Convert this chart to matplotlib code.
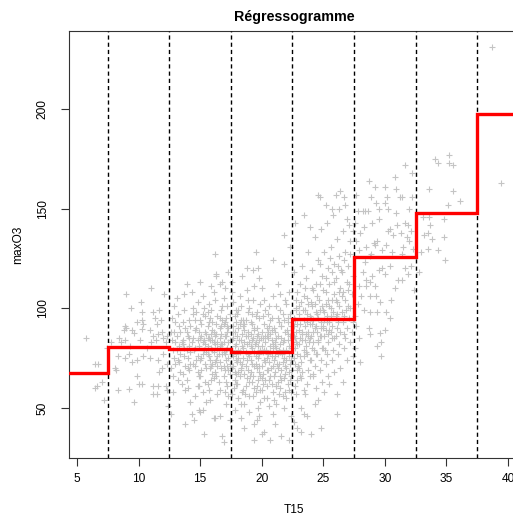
import matplotlib
matplotlib.use("Agg")
import matplotlib.pyplot as plt
import numpy as np

plt.rcParams['font.family'] = ['Liberation Sans', 'DejaVu Sans']

# ozone data: temperature at 15h (T15) vs daily max ozone (maxO3),
# one list per 5-degree class of T15
cls_05 = [(5.7, 85), (6.5, 72), (6.7, 72), (7.0, 63), (6.6, 61), (6.5, 60), (7.2, 54), (7.4, 80)]

cls_10 = [(7.8, 83), (8.4, 85), (8.6, 83), (8.9, 84), (9.0, 107), (9.4, 100), (8.9, 91), (9.0, 90),
          (8.8, 89), (9.5, 89), (9.6, 87.5), (9.9, 93), (10.3, 94), (10.4, 92), (10.3, 98), (10.2, 103),
          (11.0, 110), (12.1, 107), (11.2, 98), (11.7, 99), (10.3, 89.5), (10.9, 89), (11.5, 92), (11.8, 94),
          (11.9, 88), (11.2, 86), (11.6, 87), (12.0, 85), (12.3, 86), (10.1, 84), (11.0, 83), (11.4, 84),
          (12.2, 83), (8.3, 76), (8.9, 75), (9.2, 77), (9.5, 73), (9.9, 74), (10.4, 76), (10.9, 75),
          (11.6, 74), (12.0, 77), (12.3, 72), (8.2, 69), (8.1, 70), (9.9, 66), (11.7, 68), (11.9, 70),
          (10.0, 62), (10.3, 62), (8.3, 59), (9.2, 59.5), (11.2, 61), (11.6, 61), (12.2, 61), (11.2, 57),
          (11.5, 57), (12.3, 59), (9.6, 53), (12.4, 51), (9.3, 81), (10.7, 80), (11.3, 95)]

cls_15 = [(12.6, 88), (12.7, 95), (12.8, 79), (12.9, 101), (13.0, 72), (13.1, 86), (13.2, 64), (13.3, 91),
          (13.4, 77), (12.6, 70), (12.8, 58), (13.0, 83), (13.2, 97), (13.4, 68), (12.7, 84), (12.9, 75),
          (13.1, 105), (13.3, 81), (13.5, 62), (12.6, 47), (13.0, 93), (13.2, 74), (13.4, 88), (12.8, 66),
          (13.1, 79), (13.6, 82), (13.7, 99), (13.8, 71), (13.9, 88), (14.0, 60), (14.1, 94), (14.2, 78),
          (14.3, 108), (14.4, 85), (13.6, 67), (13.8, 90), (14.0, 75), (14.2, 53), (14.4, 97), (13.7, 80),
          (13.9, 112), (14.1, 69), (14.3, 83), (13.6, 93), (13.8, 59), (14.0, 86), (14.2, 91), (14.4, 72),
          (13.7, 76), (13.9, 64), (14.1, 81), (14.3, 47), (14.4, 100), (13.6, 84), (14.0, 70), (14.6, 89),
          (14.7, 74), (14.8, 103), (14.9, 66), (15.0, 85), (15.1, 92), (15.2, 58), (15.3, 79), (15.4, 96),
          (14.6, 71), (14.8, 84), (15.0, 113), (15.2, 77), (15.4, 63), (14.7, 90), (14.9, 81), (15.1, 69),
          (15.3, 100), (15.5, 87), (14.6, 56), (14.8, 76), (15.0, 94), (15.2, 83), (15.4, 72), (14.7, 98),
          (14.9, 61), (15.1, 86), (15.3, 37), (15.5, 78), (14.6, 80), (14.8, 68), (15.0, 48), (15.2, 106),
          (15.4, 82), (15.0, 74), (15.6, 91), (15.7, 76), (15.8, 84), (15.9, 99), (16.0, 67), (16.1, 88),
          (16.2, 73), (16.3, 117), (16.4, 80), (15.6, 62), (15.8, 95), (16.0, 79), (16.2, 86), (16.4, 57),
          (15.7, 102), (15.9, 71), (16.1, 83), (16.3, 92), (15.6, 77), (15.8, 54), (16.0, 89), (16.2, 68),
          (16.4, 96), (15.7, 85), (15.9, 64), (16.1, 108), (16.3, 74), (15.6, 81), (15.8, 70), (16.0, 93),
          (16.2, 45), (16.4, 83), (15.7, 59), (15.9, 87), (16.1, 78), (16.3, 66), (15.6, 98), (16.0, 72),
          (16.2, 104), (16.4, 76), (16.6, 85), (16.7, 70), (16.8, 94), (16.9, 78), (17.0, 110), (17.1, 63),
          (17.2, 88), (17.3, 75), (17.4, 97), (16.6, 59), (16.8, 82), (17.0, 69), (17.2, 101), (17.4, 84),
          (16.7, 91), (16.9, 66), (17.1, 79), (17.3, 118), (16.6, 73), (16.8, 36), (17.0, 86), (17.2, 61),
          (17.4, 72), (16.7, 99), (16.9, 83), (17.1, 52), (17.3, 90), (16.6, 95), (16.8, 77), (17.0, 58),
          (17.2, 80), (17.4, 67), (16.7, 87), (16.9, 105), (17.1, 74), (17.3, 56), (16.6, 81), (17.0, 93),
          (17.2, 71), (17.4, 44), (16.2, 127), (16.3, 116), (16.6, 112), (16.8, 113), (15.9, 111), (13.7, 107),
          (16.9, 33), (13.8, 42), (14.5, 44), (16.1, 45), (16.6, 46), (14.9, 49), (15.2, 49),
          (14.5, 79), (14.9, 88), (15.1, 75), (15.3, 84), (15.5, 70), (15.7, 93), (15.9, 80), (16.1, 65),
          (16.3, 87), (16.5, 77), (16.7, 82), (16.9, 92), (17.1, 86), (17.3, 69), (17.4, 79), (14.2, 72),
          (14.6, 94), (15.0, 66), (15.4, 88), (15.8, 74), (16.2, 82), (16.6, 90), (17.0, 77), (17.3, 83),
          (13.3, 73), (13.9, 79), (14.8, 61), (15.6, 85), (16.4, 71), (17.2, 91), (16.5, 63), (15.2, 97),
          (14.1, 85), (16.8, 101), (17.1, 95), (12.9, 88), (13.5, 83), (16.0, 84), (16.9, 71), (15.5, 53)]

cls_20 = [(17.6, 84), (17.7, 71), (17.8, 96), (17.9, 62), (17.6, 79), (17.7, 103), (17.8, 88), (17.9, 74),
          (17.6, 57), (17.7, 91), (17.8, 68), (17.9, 82), (17.6, 113), (17.7, 76), (17.8, 49), (17.9, 93),
          (17.6, 70), (17.7, 85), (17.8, 64), (17.9, 99), (17.6, 77), (17.8, 81), (18.0, 73), (18.1, 90),
          (18.2, 66), (18.3, 84), (18.4, 58), (18.0, 97), (18.1, 79), (18.2, 106), (18.3, 70), (18.4, 87),
          (18.0, 62), (18.1, 75), (18.2, 92), (18.3, 45), (18.4, 81), (18.0, 86), (18.1, 68), (18.2, 78),
          (18.3, 101), (18.4, 72), (18.1, 55), (18.3, 94), (18.5, 80), (18.6, 67), (18.7, 94), (18.8, 74),
          (18.9, 88), (18.5, 59), (18.6, 83), (18.7, 71), (18.8, 109), (18.9, 77), (18.5, 91), (18.6, 52),
          (18.7, 86), (18.8, 65), (18.9, 98), (18.5, 75), (18.6, 89), (18.7, 61), (18.8, 82), (18.9, 69),
          (18.6, 40), (18.8, 120), (19.0, 76), (19.1, 93), (19.2, 63), (19.3, 85), (19.4, 71), (19.0, 100),
          (19.1, 68), (19.2, 80), (19.3, 56), (19.4, 89), (19.0, 83), (19.1, 74), (19.2, 97), (19.3, 66),
          (19.4, 78), (19.0, 48), (19.1, 87), (19.2, 72), (19.3, 104), (19.4, 60), (19.2, 84), (19.4, 34),
          (19.5, 72), (19.6, 86), (19.7, 64), (19.8, 95), (19.9, 79), (19.5, 58), (19.6, 90), (19.7, 75),
          (19.8, 68), (19.9, 102), (19.5, 83), (19.6, 61), (19.7, 87), (19.8, 77), (19.9, 53), (19.5, 96),
          (19.6, 70), (19.7, 81), (19.8, 115), (19.9, 66), (19.6, 44), (19.8, 84), (20.0, 81), (20.1, 67),
          (20.2, 92), (20.3, 73), (20.4, 86), (20.0, 59), (20.1, 78), (20.2, 104), (20.3, 64), (20.4, 90),
          (20.0, 71), (20.1, 96), (20.2, 55), (20.3, 83), (20.4, 75), (20.0, 88), (20.1, 62), (20.2, 79),
          (20.3, 99), (20.4, 69), (20.2, 38), (20.0, 110), (20.5, 77), (20.6, 91), (20.7, 66), (20.8, 84),
          (20.9, 58), (20.5, 97), (20.6, 73), (20.7, 87), (20.8, 62), (20.9, 80), (20.5, 69), (20.6, 51),
          (20.7, 94), (20.8, 76), (20.9, 106), (20.5, 85), (20.6, 64), (20.7, 78), (20.8, 89), (20.9, 71),
          (20.7, 34), (20.9, 47), (21.0, 74), (21.1, 88), (21.2, 61), (21.3, 95), (21.4, 79), (21.0, 66),
          (21.1, 83), (21.2, 101), (21.3, 70), (21.4, 57), (21.0, 90), (21.1, 76), (21.2, 85), (21.3, 63),
          (21.4, 93), (21.0, 54), (21.1, 68), (21.2, 80), (21.3, 112), (21.4, 72), (21.1, 42), (21.3, 86),
          (21.5, 82), (21.6, 69), (21.7, 97), (21.8, 75), (21.9, 88), (21.5, 60), (21.6, 91), (21.7, 73),
          (21.8, 65), (21.9, 104), (21.5, 78), (21.6, 85), (21.7, 56), (21.8, 94), (21.9, 71), (21.5, 99),
          (21.6, 64), (21.7, 83), (21.8, 122), (21.9, 67), (21.6, 36), (21.8, 50), (22.0, 79), (22.1, 93),
          (22.2, 68), (22.3, 86), (22.4, 74), (22.0, 102), (22.1, 62), (22.2, 81), (22.3, 97), (22.4, 58),
          (22.0, 70), (22.1, 87), (22.2, 76), (22.3, 64), (22.4, 91), (22.0, 55), (22.1, 84), (22.2, 108),
          (22.3, 72), (22.4, 80), (22.2, 34), (22.4, 46), (18.4, 116), (19.5, 128), (19.3, 119), (19.7, 120),
          (21.8, 137), (20.9, 124), (22.3, 131), (20.0, 37), (19.4, 42), (19.8, 46), (17.6, 108),
          (17.65, 88), (17.95, 77), (18.15, 84), (18.35, 69), (18.55, 92), (18.75, 78), (18.95, 63), (19.15, 81),
          (19.35, 90), (19.55, 76), (19.75, 71), (19.95, 85), (20.15, 74), (20.35, 79), (20.55, 88), (20.75, 70),
          (20.95, 82), (21.15, 61), (21.35, 77), (21.55, 91), (21.75, 79), (21.95, 74), (22.15, 95), (22.35, 66),
          (17.75, 60), (18.05, 99), (18.25, 73), (18.45, 94), (18.65, 57), (18.85, 86), (19.05, 66), (19.25, 92),
          (19.45, 82), (19.65, 98), (19.85, 59), (20.05, 65), (20.25, 86), (20.45, 61), (20.65, 81), (20.85, 95),
          (21.05, 81), (21.25, 72), (21.45, 66), (21.65, 77), (21.85, 84), (22.05, 89), (22.25, 59), (22.45, 69),
          (18.3, 52), (19.0, 56), (19.7, 50), (20.4, 55), (21.2, 52), (21.9, 58), (18.9, 104), (20.6, 101),
          (21.5, 107), (19.4, 111), (17.9, 67), (20.1, 85)]

cls_25 = [(22.6, 86), (22.7, 72), (22.8, 99), (22.9, 64), (22.6, 91), (22.7, 80), (22.8, 57), (22.9, 108),
          (22.6, 75), (22.7, 94), (22.8, 83), (22.9, 69), (22.6, 118), (22.7, 61), (22.8, 88), (22.9, 77),
          (22.6, 43), (22.8, 100), (22.7, 85), (22.9, 92), (23.0, 89), (23.1, 76), (23.2, 103), (23.3, 68),
          (23.4, 94), (23.0, 82), (23.1, 112), (23.2, 73), (23.3, 87), (23.4, 59), (23.0, 97), (23.1, 85),
          (23.2, 65), (23.3, 121), (23.4, 79), (23.0, 70), (23.1, 92), (23.2, 50), (23.3, 84), (23.4, 106),
          (23.2, 38), (23.5, 91), (23.6, 78), (23.7, 105), (23.8, 69), (23.9, 96), (23.5, 84), (23.6, 115),
          (23.7, 62), (23.8, 88), (23.9, 74), (23.5, 99), (23.6, 81), (23.7, 93), (23.8, 128), (23.9, 66),
          (23.5, 57), (23.6, 87), (23.7, 77), (23.8, 102), (23.9, 85), (23.7, 46), (24.0, 95), (24.1, 80),
          (24.2, 109), (24.3, 71), (24.4, 98), (24.0, 86), (24.1, 119), (24.2, 66), (24.3, 90), (24.4, 77),
          (24.0, 103), (24.1, 92), (24.2, 83), (24.3, 136), (24.4, 60), (24.0, 74), (24.1, 101), (24.2, 88),
          (24.3, 52), (24.4, 112), (24.2, 94), (24.5, 97), (24.6, 83), (24.7, 112), (24.8, 74), (24.9, 101),
          (24.5, 88), (24.6, 124), (24.7, 69), (24.8, 93), (24.9, 80), (24.5, 106), (24.6, 95), (24.7, 86),
          (24.8, 140), (24.9, 63), (24.5, 77), (24.6, 54), (24.7, 99), (24.8, 90), (24.9, 116), (25.0, 99),
          (25.1, 86), (25.2, 115), (25.3, 77), (25.4, 104), (25.0, 91), (25.1, 128), (25.2, 72), (25.3, 96),
          (25.4, 83), (25.0, 109), (25.1, 98), (25.2, 89), (25.3, 143), (25.4, 66), (25.0, 80), (25.1, 58),
          (25.2, 102), (25.3, 93), (25.4, 120), (25.5, 101), (25.6, 88), (25.7, 118), (25.8, 79), (25.9, 107),
          (25.5, 93), (25.6, 131), (25.7, 74), (25.8, 98), (25.9, 85), (25.5, 112), (25.6, 100), (25.7, 91),
          (25.8, 147), (25.9, 68), (25.5, 62), (25.7, 104), (25.9, 122), (26.0, 104), (26.1, 90), (26.2, 121),
          (26.3, 82), (26.4, 110), (26.0, 96), (26.1, 135), (26.2, 77), (26.3, 101), (26.4, 88), (26.0, 115),
          (26.1, 103), (26.2, 93), (26.3, 150), (26.4, 70), (26.1, 57), (26.3, 126), (26.5, 106), (26.6, 93),
          (26.7, 124), (26.8, 85), (26.9, 113), (26.5, 98), (26.6, 139), (26.7, 80), (26.8, 104), (26.9, 90),
          (26.5, 118), (26.6, 108), (26.7, 96), (26.8, 152), (26.9, 74), (26.6, 63), (26.8, 128), (27.0, 109),
          (27.1, 95), (27.2, 127), (27.3, 88), (27.4, 116), (27.0, 101), (27.1, 142), (27.2, 83), (27.3, 107),
          (27.4, 93), (27.0, 121), (27.2, 134), (27.4, 76), (27.1, 112), (22.7, 143), (23.4, 147), (24.6, 157),
          (24.7, 156), (25.7, 150), (26.0, 157), (26.4, 159), (26.7, 156), (26.9, 145), (27.4, 139), (25.2, 152),
          (23.9, 141), (22.9, 40), (24.0, 37), (24.8, 40), (26.1, 47), (23.4, 47),
          (22.65, 95), (22.85, 82), (23.05, 101), (23.25, 88), (23.45, 76), (23.65, 97), (23.85, 83), (24.05, 110),
          (24.25, 79), (24.45, 91), (24.65, 104), (24.85, 86), (25.05, 94), (25.25, 108), (25.45, 89), (25.65, 96),
          (25.85, 113), (26.15, 97), (26.45, 119), (26.85, 99), (22.75, 104), (22.95, 71), (23.15, 66), (23.35, 99),
          (23.55, 110), (23.75, 86), (23.95, 92), (24.15, 67), (24.35, 102), (24.55, 84), (24.75, 122), (24.95, 90),
          (25.15, 79), (25.35, 87), (25.55, 125), (25.75, 85), (26.05, 86), (26.25, 108), (26.65, 87), (27.15, 100)]

cls_30 = [(31.6, 172), (32.2, 168), (30.8, 166), (28.7, 164), (29.2, 161), (30.0, 161), (30.9, 160), (27.7, 157),
          (28.9, 156), (30.2, 156), (31.2, 156), (31.4, 156), (32.2, 156), (29.3, 153), (30.0, 153), (29.5, 150),
          (30.3, 150), (28.2, 149), (28.4, 149), (28.6, 149), (27.8, 149), (30.9, 148), (32.0, 150), (31.6, 143),
          (27.6, 143), (27.7, 134), (28.3, 141), (29.0, 143), (29.5, 145), (27.9, 129), (28.5, 131), (29.1, 133),
          (29.2, 132), (29.4, 134), (28.9, 127), (29.8, 129), (30.1, 132), (30.3, 139), (30.4, 140), (30.7, 137),
          (31.0, 142), (31.3, 138), (31.5, 131), (31.9, 142), (32.1, 139), (32.0, 134), (31.8, 136), (28.0, 138),
          (28.8, 126), (30.6, 128), (31.4, 127), (32.3, 130), (28.4, 123), (28.2, 118), (28.5, 114), (28.8, 113),
          (27.9, 111), (28.5, 111), (29.2, 111), (29.5, 119), (29.8, 120), (30.0, 117), (30.4, 121), (31.1, 114),
          (31.4, 114), (31.9, 117), (32.4, 109), (28.8, 106), (29.3, 106), (27.8, 102), (28.3, 99), (28.8, 98),
          (29.4, 98), (29.6, 103), (30.5, 104), (30.1, 98), (30.4, 95), (28.7, 90), (28.8, 87), (29.7, 83),
          (30.0, 89), (29.7, 76), (27.9, 85), (28.0, 73), (27.6, 96), (27.7, 91), (27.6, 80), (28.1, 106),
          (29.0, 116), (30.8, 110), (31.6, 120), (32.1, 121), (29.35, 81), (29.6, 87.5)]

cls_35 = [(34.1, 175), (35.2, 177), (34.3, 173), (35.2, 173), (35.5, 172), (33.6, 160), (35.5, 159), (36.1, 154),
          (35.1, 152), (33.1, 146), (33.6, 146), (34.8, 145), (33.7, 142), (34.8, 136), (33.8, 135), (34.3, 129),
          (34.9, 124), (33.2, 137), (33.5, 138), (33.5, 130), (32.9, 128), (32.8, 118)]

cls_40 = [(38.7, 231), (39.4, 163)]

# regressogram: class breaks on T15 and mean maxO3 in each class
breaks = [2.5, 7.5, 12.5, 17.5, 22.5, 27.5, 32.5, 37.5, 42.5]
class_means = [67.7, 80.8, 79.4, 78.2, 94.5, 125.9, 147.7, 197.4]

pts = np.array(cls_05 + cls_10 + cls_15 + cls_20 + cls_25 + cls_30 + cls_35 + cls_40)

fig = plt.figure(figsize=(5.13, 5.17), dpi=100)
ax = fig.add_axes([0.1345, 0.1141, 0.8772, 0.8259])

ax.plot(pts[:, 0], pts[:, 1], ls='none', marker='+', ms=4.0, mew=0.8, color='#c4c4c4', zorder=2)

for b in breaks[1:-1]:
    ax.axvline(b, color='black', lw=1.0, ls=(0, (3, 2.2)), zorder=3)

ax.stairs(class_means, breaks, baseline=None, color='red', lw=2.4, zorder=4)

ax.set_xlim(4.35, 40.9)
ax.set_ylim(24.9, 239.1)
ax.set_xticks([5, 10, 15, 20, 25, 30, 35, 40])
ax.set_yticks([50, 100, 150, 200])
ax.tick_params(axis='both', direction='out', length=5.5, width=0.8, labelsize=8.6, color='#333333')
ax.tick_params(axis='x', pad=5)
ax.tick_params(axis='y', pad=9)
for lab in ax.get_yticklabels():
    lab.set_rotation(90)
    lab.set_va('center')

for sp in ax.spines.values():
    sp.set_linewidth(0.8)
    sp.set_color('#333333')

ax.set_title('Régressogramme', fontsize=10.3, fontweight='bold', pad=7)
ax.set_xlabel('T15', fontsize=8.6, labelpad=14)
ax.set_ylabel('maxO3', fontsize=8.6, labelpad=9)

fig.savefig('out.png', dpi=100)
